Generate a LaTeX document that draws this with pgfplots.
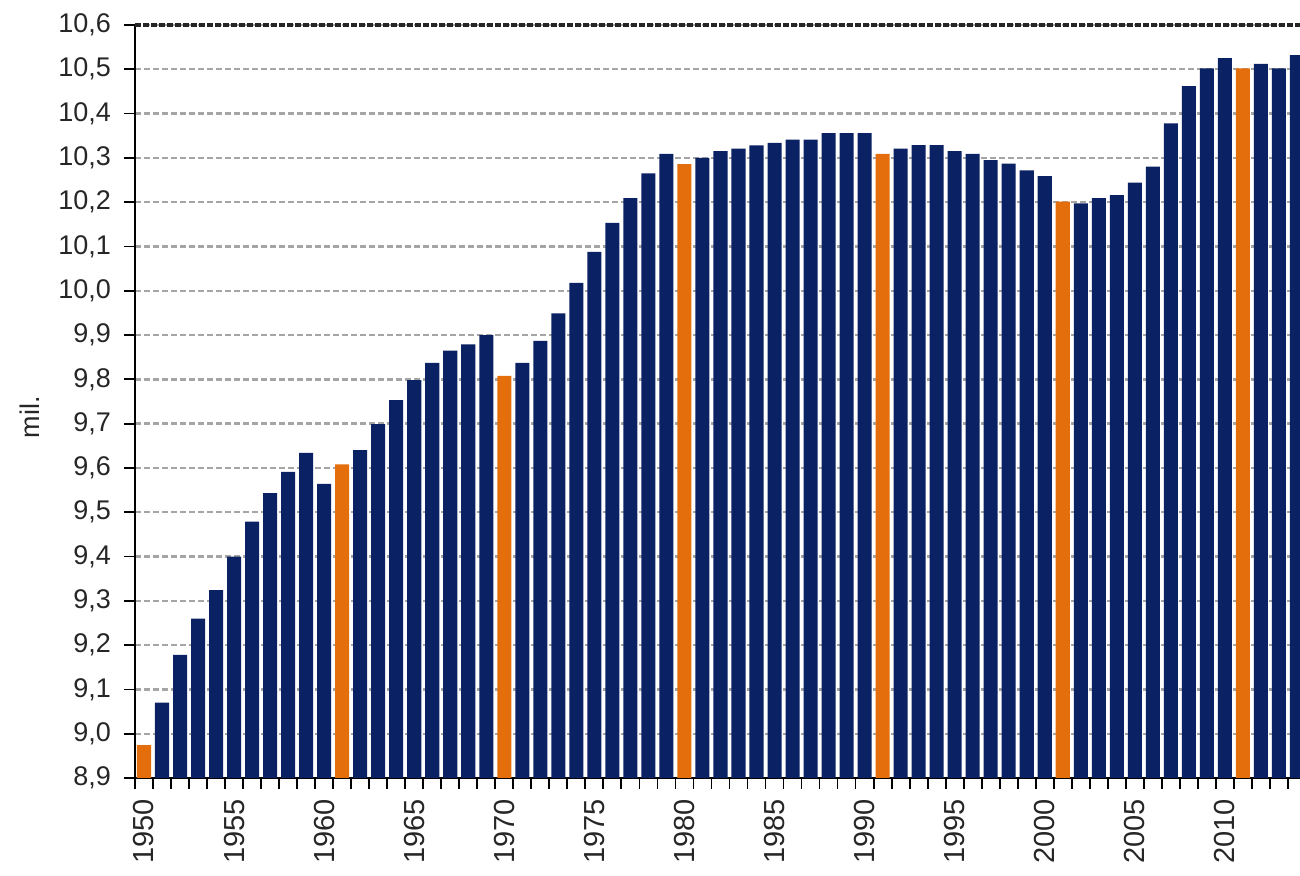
\documentclass[border=0pt]{standalone}
\usepackage{fontspec}
\setmainfont{Liberation Sans}
\usepackage{pgfplots}
\pgfplotsset{compat=1.18}
\usetikzlibrary{calc}
\definecolor{navy}{RGB}{10,34,100}
\definecolor{cens}{RGB}{228,110,12}
\definecolor{gridgray}{RGB}{165,165,165}
\begin{document}
\begin{tikzpicture}
\begin{axis}[name=ax, scale only axis, width=582.5pt, height=376.5pt,
  xmin=1949.5, xmax=2014.17, ymin=8.9, ymax=10.6,
  axis lines=left, axis line style={-, line width=1.2pt, black},
  tick align=outside,
  ytick={8.9,9.0,9.1,9.2,9.3,9.4,9.5,9.6,9.7,9.8,9.9,10.0,10.1,10.2,10.3,10.4,10.5,10.6},
  yticklabel style={/pgf/number format/fixed, /pgf/number format/fixed zerofill, /pgf/number format/precision=1, /pgf/number format/use comma, /pgf/number format/assume math mode=true, font=\fontsize{13.5}{15}\selectfont, text=black!85},
  yticklabel shift=3pt,
  ymajorgrids, grid style={gridgray, dash pattern=on 3pt off 1.5pt, line width=1.2pt},
  extra y ticks={10.6}, extra y tick labels={},
  extra y tick style={grid style={black!85, dash pattern=on 3pt off 1pt, line width=1.6pt}},
  xtick={1949.5,1950.5,...,2013.6}, xticklabels={},
  extra x ticks={1950,1955,1960,1965,1970,1975,1980,1985,1990,1995,2000,2005,2010},
  extra x tick labels={1950,1955,1960,1965,1970,1975,1980,1985,1990,1995,2000,2005,2010},
  extra x tick style={major tick length=0pt, tick label style={rotate=90, anchor=east, font=\fontsize{14.5}{16}\selectfont, text=black!85}},
  xticklabel shift=7pt,
  major tick length=5.5pt,
  tick style={black, line width=0.9pt},
]
\addplot[ybar, bar width=0.78, bar shift=0pt, fill=navy, draw=none] coordinates {
(1951,9.070) (1952,9.178) (1953,9.260) (1954,9.324) (1955,9.400) (1956,9.479) (1957,9.543) (1958,9.591) (1959,9.634) (1960,9.564)
(1962,9.640) (1963,9.699) (1964,9.753) (1965,9.798) (1966,9.837) (1967,9.865) (1968,9.879) (1969,9.900)
(1971,9.837) (1972,9.887) (1973,9.949) (1974,10.018) (1975,10.088) (1976,10.153) (1977,10.209) (1978,10.265) (1979,10.309)
(1981,10.300) (1982,10.315) (1983,10.321) (1984,10.328) (1985,10.334) (1986,10.341) (1987,10.341) (1988,10.356) (1989,10.356) (1990,10.356)
(1992,10.321) (1993,10.329) (1994,10.329) (1995,10.315) (1996,10.309) (1997,10.295) (1998,10.287) (1999,10.272) (2000,10.259)
(2002,10.197) (2003,10.209) (2004,10.216) (2005,10.244) (2006,10.280) (2007,10.378) (2008,10.462) (2009,10.502) (2010,10.525)
(2012,10.512) (2013,10.502) (2014,10.532)
};
\addplot[ybar, bar width=0.78, bar shift=0pt, fill=cens, draw=none] coordinates {
(1950,8.974) (1961,9.608) (1970,9.808) (1980,10.286) (1991,10.309) (2001,10.201) (2011,10.502)
};
\end{axis}
\node[rotate=90, font=\fontsize{13.5}{15}\selectfont, text=black!85] at ($(ax.south west)!0.479!(ax.north west)+(-52.5pt,0pt)$) {mil.};
\pgfresetboundingbox
\path ($(ax.south west)+(-67.5pt,-49pt)$) rectangle ($(ax.north east)+(0pt,12.5pt)$);
\end{tikzpicture}
\end{document}
